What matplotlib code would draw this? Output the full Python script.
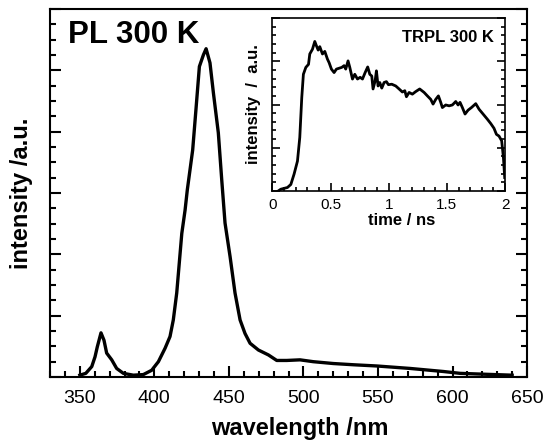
import numpy as np
import matplotlib
matplotlib.use("Agg")
import matplotlib.pyplot as plt
from matplotlib.ticker import MultipleLocator, NullFormatter

plt.rcParams['font.family'] = ['Liberation Sans', 'DejaVu Sans']

# steady-state PL spectrum
wavelength = [350, 354, 358, 360.2, 361.7, 364.2, 366.2, 368, 371.4, 374.7, 379.2, 385.9,
              392.6, 398.2, 402.7, 407.2, 410.5, 412.7, 415, 418.4, 420.6, 422.1, 425.7,
              427.9, 430.2, 432.9, 434.7, 437.3, 439.6, 442.9, 445.2, 447.4, 450.8, 454.1,
              457.5, 460.8, 464.2, 469.8, 476.5, 482.1, 488.8, 497.7, 506.6, 520, 533.5,
              549.2, 571.5, 593.9, 605, 616.3, 640]
intensity = [0.03, 0.06, 0.17, 0.33, 0.49, 0.72, 0.60, 0.39, 0.28, 0.14, 0.06, 0.03,
             0.04, 0.11, 0.25, 0.47, 0.66, 0.93, 1.37, 2.34, 2.72, 3.05, 3.70,
             4.36, 5.06, 5.25, 5.35, 5.12, 4.63, 3.98, 3.21, 2.51, 1.96, 1.37,
             0.93, 0.71, 0.55, 0.44, 0.36, 0.27, 0.27, 0.28, 0.25, 0.22, 0.20,
             0.18, 0.14, 0.09, 0.06, 0.05, 0.03]

# time-resolved PL transient (inset)
time_ns = [0.05, 0.072, 0.129, 0.158, 0.186, 0.215, 0.235, 0.252, 0.266, 0.287, 0.31, 0.321,
           0.344, 0.364, 0.378, 0.393, 0.407, 0.43, 0.45, 0.473, 0.487, 0.507, 0.53, 0.55,
           0.573, 0.596, 0.616, 0.63, 0.65, 0.665, 0.688, 0.708, 0.731, 0.754, 0.774, 0.797,
           0.819, 0.837, 0.854, 0.865, 0.883, 0.894, 0.908, 0.923, 0.94, 0.96, 0.98, 0.997,
           1.026, 1.06, 1.089, 1.117, 1.138, 1.152, 1.175, 1.203, 1.232, 1.266, 1.304, 1.332,
           1.361, 1.381, 1.404, 1.427, 1.447, 1.461, 1.49, 1.519, 1.547, 1.576, 1.596, 1.613,
           1.633, 1.656, 1.682, 1.711, 1.748, 1.777, 1.811, 1.848, 1.877, 1.905, 1.926, 1.948,
           1.971, 1.986, 1.997]
trpl = [0.0, 0.04, 0.08, 0.15, 0.39, 0.69, 1.24, 2.16, 2.70, 2.86, 2.93, 3.17,
        3.28, 3.46, 3.36, 3.26, 3.34, 3.17, 3.23, 3.05, 2.97, 2.82, 2.74, 2.82,
        2.84, 2.86, 2.90, 2.82, 3.01, 2.86, 2.59, 2.70, 2.59, 2.63, 2.59, 2.74,
        2.87, 2.70, 2.66, 2.36, 2.55, 2.78, 2.43, 2.51, 2.38, 2.51, 2.53, 2.46,
        2.47, 2.43, 2.36, 2.29, 2.32, 2.18, 2.28, 2.24, 2.30, 2.36, 2.28, 2.20,
        2.12, 2.01, 2.12, 2.20, 2.05, 1.93, 1.99, 1.97, 1.99, 2.07, 1.99, 2.05,
        1.93, 1.78, 1.87, 1.93, 2.02, 1.89, 1.78, 1.66, 1.56, 1.45, 1.31, 1.27,
        1.16, 0.77, 0.31]


def style_axes(ax, major_len, minor_len, width):
    for sp in ax.spines.values():
        sp.set_linewidth(width)
    ax.tick_params(which='both', direction='in', top=False, right=True, width=width)
    ax.tick_params(which='major', length=major_len)
    ax.tick_params(which='minor', length=minor_len)
    ax.yaxis.set_major_formatter(NullFormatter())


fig = plt.figure(figsize=(5.46, 4.42), dpi=100)

ax = fig.add_axes([0.0916, 0.147, 0.8737, 0.833])
ax.plot(wavelength, intensity, color='black', lw=2.4, solid_joinstyle='round')
ax.set_xlim(330, 650)
ax.set_ylim(0, 6)
ax.xaxis.set_major_locator(MultipleLocator(50))
ax.xaxis.set_minor_locator(MultipleLocator(10))
ax.yaxis.set_major_locator(MultipleLocator(1))
ax.yaxis.set_minor_locator(MultipleLocator(0.25))
style_axes(ax, 8, 4.5, 1.5)
ax.tick_params(axis='x', labelsize=14, pad=9)
ax.set_xlabel('wavelength /nm', fontsize=17, fontweight='bold')
ax.xaxis.set_label_coords(0.524, -0.108)
ax.set_ylabel('intensity /a.u.', fontsize=17, fontweight='bold')
ax.yaxis.set_label_coords(-0.036, 0.5)
ax.text(0.038, 0.907, 'PL 300 K', transform=ax.transAxes, fontsize=22.5,
        fontweight='bold', va='baseline', ha='left')

ins = fig.add_axes([0.499, 0.568, 0.426, 0.391])
ins.plot(time_ns, trpl, color='black', lw=2.0, solid_joinstyle='round')
ins.set_xlim(0, 2)
ins.set_ylim(0, 4)
ins.xaxis.set_major_locator(MultipleLocator(0.5))
ins.xaxis.set_minor_locator(MultipleLocator(0.1))
ins.yaxis.set_major_locator(MultipleLocator(1))
ins.yaxis.set_minor_locator(MultipleLocator(0.2))
ins.xaxis.set_major_formatter(plt.FuncFormatter(lambda v, p: f"{v:g}"))
style_axes(ins, 5.5, 3, 1.2)
ins.tick_params(axis='x', labelsize=11, pad=5)
ins.set_xlabel('time / ns', fontsize=12, fontweight='bold')
ins.xaxis.set_label_coords(0.555, -0.125)
ins.set_ylabel('intensity  /  a.u.', fontsize=12, fontweight='bold')
ins.yaxis.set_label_coords(-0.05, 0.5)
ins.text(0.95, 0.86, 'TRPL 300 K', transform=ins.transAxes, fontsize=12,
         fontweight='bold', va='baseline', ha='right')

fig.savefig('out.png', dpi=100)
